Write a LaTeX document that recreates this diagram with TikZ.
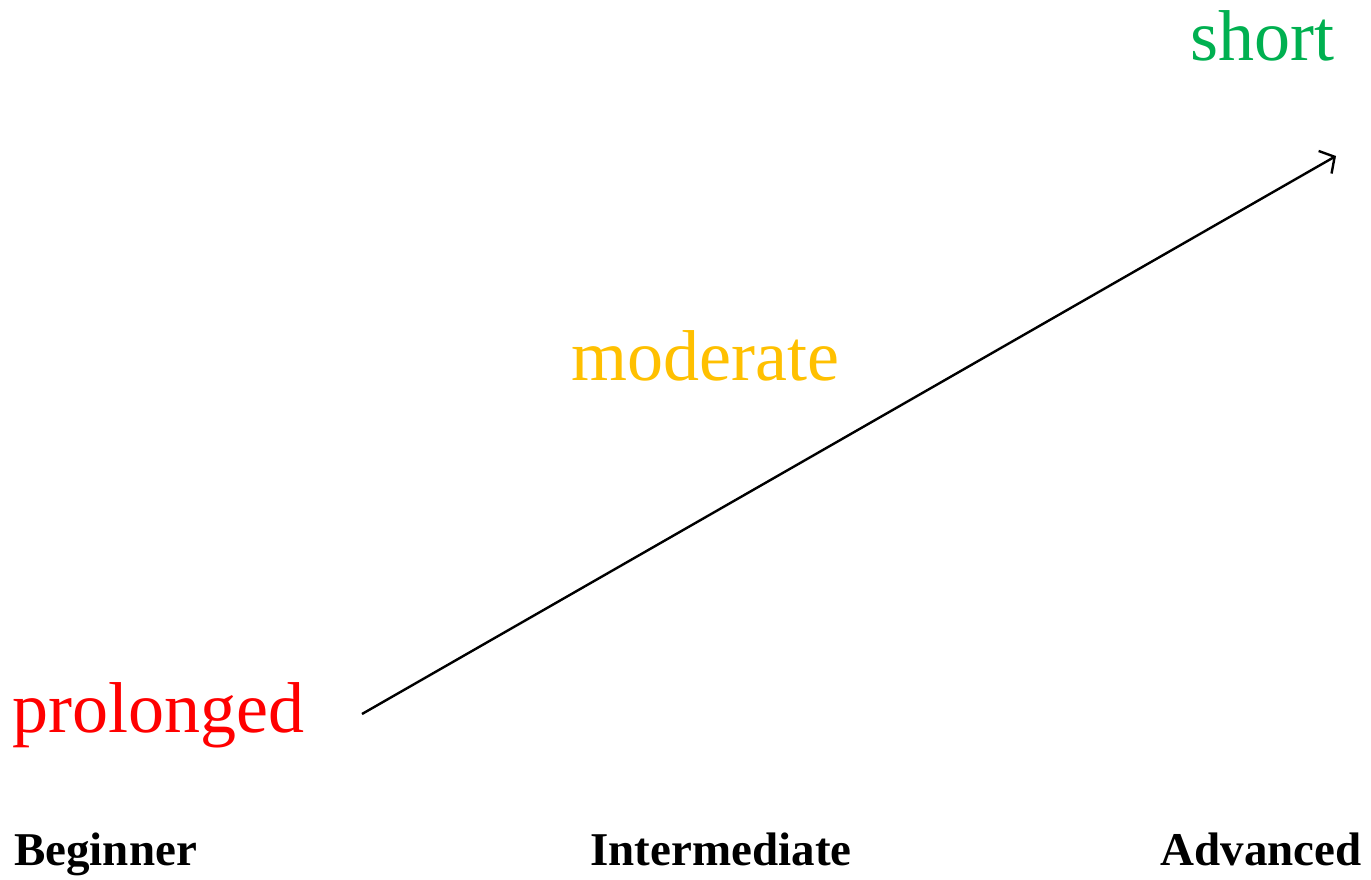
\documentclass[tikz,border=0pt]{standalone}
\usepackage{fontspec}
\setmainfont{Liberation Serif}
\usetikzlibrary{arrows.meta}
\definecolor{lred}{RGB}{255,0,0}
\definecolor{lgold}{RGB}{255,192,0}
\definecolor{lgreen}{RGB}{0,176,80}
\begin{document}
\begin{tikzpicture}[x=1pt,y=-1pt,
  big/.style={font=\fontsize{72}{82}\selectfont, inner sep=0pt},
  level/.style={font=\fontsize{47}{53}\selectfont\bfseries, inner sep=0pt},
  arr/.style={-{Straight Barb[length=11pt,width=26pt]}, line width=2.4pt}]
\useasboundingbox (0,0) rectangle (1371,879);
\node[big, text=lred, anchor=base west] (prol) at (12,732) {prolonged};
\node[big, text=lgold, anchor=base] (mod) at (705,380) {moderate};
\node[big, text=lgreen, anchor=base east] (short) at (1335,60) {short};
\node[level, anchor=base west] (beg) at (14,865) {Beginner};
\node[level, anchor=base] (int) at (721,865) {Intermediate};
\node[level, anchor=base east] (adv) at (1362,865) {Advanced};
\coordinate (a) at (362,714);
\coordinate (b) at (1336,156);
\draw[arr] (a) -- (b);
\end{tikzpicture}
\end{document}
